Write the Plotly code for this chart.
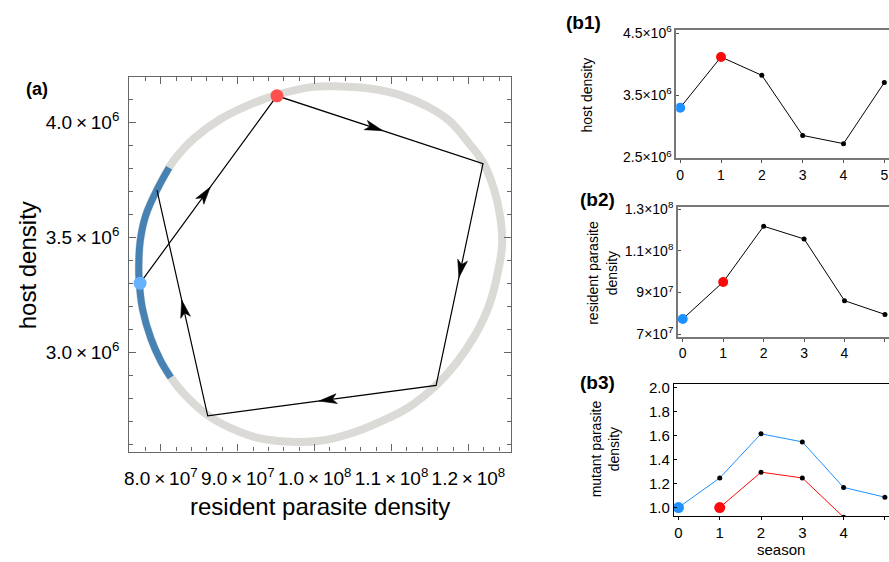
import math
import plotly.graph_objects as go

# ---------------- data ----------------
seasons = [0, 1, 2, 3, 4, 5]
host = [3.30e6, 4.115e6, 3.82e6, 2.855e6, 2.723e6, 3.705e6]
resident = [7.73e7, 9.51e7, 12.19e7, 11.58e7, 8.61e7, 7.95e7]
mutant_from0 = [1.0, 1.246, 1.613, 1.546, 1.167, 1.086]
mutant_from1_seasons = [1, 2, 3, 4]
mutant_from1 = [1.0, 1.294, 1.246, 0.92]

# invariant curve, resident (x) and host (y)
ring_x = [9.982e7, 9.517e7, 9.164e7, 8.776e7, 8.431e7, 8.172e7, 7.956e7, 7.806e7, 7.732e7, 7.713e7,
          7.719e7, 7.762e7, 7.871e7, 8.000e7, 8.129e7, 8.301e7, 8.603e7, 8.905e7, 9.249e7, 9.681e7,
          10.069e7, 10.457e7, 10.866e7, 11.233e7, 11.577e7, 11.836e7, 12.086e7, 12.267e7, 12.397e7, 12.439e7,
          12.417e7, 12.332e7, 12.190e7, 12.009e7, 11.750e7, 11.470e7, 11.124e7, 10.736e7, 10.370e7, 9.982e7]
ring_y = [4.154e6, 4.120e6, 4.078e6, 4.014e6, 3.929e6, 3.835e6, 3.710e6, 3.597e6, 3.484e6, 3.370e6,
          3.307e6, 3.187e6, 3.059e6, 2.961e6, 2.890e6, 2.819e6, 2.727e6, 2.670e6, 2.628e6, 2.610e6,
          2.614e6, 2.645e6, 2.699e6, 2.762e6, 2.854e6, 2.949e6, 3.073e6, 3.201e6, 3.370e6, 3.471e6,
          3.583e6, 3.710e6, 3.826e6, 3.908e6, 4.007e6, 4.068e6, 4.117e6, 4.146e6, 4.155e6, 4.154e6]
arc_x = [8.107e7, 7.956e7, 7.806e7, 7.732e7, 7.713e7, 7.719e7, 7.762e7, 7.871e7, 8.000e7, 8.129e7]
arc_y = [3.802e6, 3.710e6, 3.597e6, 3.484e6, 3.370e6, 3.307e6, 3.187e6, 3.059e6, 2.961e6, 2.890e6]

# tick labels
TS = "\u2009"
a_xtickvals = [8e7, 9e7, 1e8, 1.1e8, 1.2e8]
a_xticktext = [f"8.0{TS}×{TS}10<sup>7</sup>", f"9.0{TS}×{TS}10<sup>7</sup>", f"1.0{TS}×{TS}10<sup>8</sup>",
               f"1.1{TS}×{TS}10<sup>8</sup>", f"1.2{TS}×{TS}10<sup>8</sup>"]
a_ytickvals = [3.0e6, 3.5e6, 4.0e6]
a_yticktext = [f"3.0{TS}×{TS}10<sup>6</sup>", f"3.5{TS}×{TS}10<sup>6</sup>", f"4.0{TS}×{TS}10<sup>6</sup>"]
b1_ytickvals = [2.5e6, 3.5e6, 4.5e6]
b1_yticktext = ["2.5×10<sup>6</sup>", "3.5×10<sup>6</sup>", "4.5×10<sup>6</sup>"]
b2_ytickvals = [7e7, 9e7, 1.1e8, 1.3e8]
b2_yticktext = ["7×10<sup>7</sup>", "9×10<sup>7</sup>", "1.1×10<sup>8</sup>", "1.3×10<sup>8</sup>"]
b3_ytickvals = [1.0, 1.2, 1.4, 1.6, 1.8, 2.0]
b3_yticktext = ["1.0", "1.2", "1.4", "1.6", "1.8", "2.0"]

# ---------------- styles / layout geometry ----------------
FONT = "Liberation Sans, Arial, sans-serif"
W, H = 889, 562
RED_A, BLUE_A = "rgb(255,80,80)", "rgb(102,178,255)"
RED_B, BLUE_B = "rgb(250,10,10)", "rgb(30,144,255)"
ARC = "rgb(70,130,180)"
A_LEFT, A_RIGHT, A_TOP, A_BOTTOM = 125, 509, 72, 456
A_XRANGE = [7.59e7, 12.556e7]
A_YRANGE = [2.567e6, 4.196e6]

fig = go.Figure()

# ----- panel (a) -----
fig.add_trace(go.Scatter(x=ring_x, y=ring_y, mode="lines",
                         line=dict(color="rgb(220,218,215)", width=8, shape="spline", smoothing=1.2),
                         xaxis="x", yaxis="y", hoverinfo="skip"))
fig.add_trace(go.Scatter(x=arc_x, y=arc_y, mode="lines", line=dict(color=ARC, width=7, shape="spline"),
                         xaxis="x", yaxis="y", hoverinfo="skip"))
fig.add_trace(go.Scatter(x=resident, y=host, mode="lines", line=dict(color="black", width=1.2),
                         xaxis="x", yaxis="y"))

# notched arrowheads at the middle of each step (shape defined in screen pixels)
sx = (A_RIGHT - A_LEFT) / (A_XRANGE[1] - A_XRANGE[0])
sy = (A_BOTTOM - A_TOP) / (A_YRANGE[1] - A_YRANGE[0])
HEAD_LEN, HEAD_HALF, NOTCH, SHIFT = 18, 5, 13.5, 3
head_x, head_y = [], []
for i in range(len(seasons) - 1):
    X0, Y0 = resident[i] * sx, host[i] * sy
    X1, Y1 = resident[i + 1] * sx, host[i + 1] * sy
    dx, dy = X1 - X0, Y1 - Y0
    L = math.hypot(dx, dy)
    ux, uy = dx / L, dy / L
    nx, ny = -uy, ux
    tx, ty = X0 + 0.5 * dx + SHIFT * ux, Y0 + 0.5 * dy + SHIFT * uy
    pts = [(tx, ty),
           (tx - HEAD_LEN * ux + HEAD_HALF * nx, ty - HEAD_LEN * uy + HEAD_HALF * ny),
           (tx - NOTCH * ux, ty - NOTCH * uy),
           (tx - HEAD_LEN * ux - HEAD_HALF * nx, ty - HEAD_LEN * uy - HEAD_HALF * ny),
           (tx, ty)]
    for a, b in pts:
        head_x.append(a / sx)
        head_y.append(b / sy)
    head_x.append(None)
    head_y.append(None)
fig.add_trace(go.Scatter(x=head_x, y=head_y, mode="lines", fill="toself", fillcolor="black",
                         line=dict(color="black", width=0.6), xaxis="x", yaxis="y", hoverinfo="skip"))

fig.add_trace(go.Scatter(x=[resident[0]], y=[host[0]], mode="markers", marker=dict(size=13, color=BLUE_A),
                         xaxis="x", yaxis="y"))
fig.add_trace(go.Scatter(x=[resident[1]], y=[host[1]], mode="markers", marker=dict(size=13, color=RED_A),
                         xaxis="x", yaxis="y"))

# ----- panel (b1) -----
fig.add_trace(go.Scatter(x=seasons, y=host, mode="lines+markers", line=dict(color="black", width=1),
                         marker=dict(size=5, color="black"), xaxis="x2", yaxis="y2"))
fig.add_trace(go.Scatter(x=[seasons[0]], y=[host[0]], mode="markers", marker=dict(size=10, color=BLUE_B), xaxis="x2", yaxis="y2"))
fig.add_trace(go.Scatter(x=[seasons[1]], y=[host[1]], mode="markers", marker=dict(size=10, color=RED_B), xaxis="x2", yaxis="y2"))

# ----- panel (b2) -----
fig.add_trace(go.Scatter(x=seasons, y=resident, mode="lines+markers", line=dict(color="black", width=1),
                         marker=dict(size=5, color="black"), xaxis="x3", yaxis="y3"))
fig.add_trace(go.Scatter(x=[seasons[0]], y=[resident[0]], mode="markers", marker=dict(size=10, color=BLUE_B), xaxis="x3", yaxis="y3"))
fig.add_trace(go.Scatter(x=[seasons[1]], y=[resident[1]], mode="markers", marker=dict(size=10, color=RED_B), xaxis="x3", yaxis="y3"))

# ----- panel (b3) -----
fig.add_trace(go.Scatter(x=seasons, y=mutant_from0, mode="lines+markers", line=dict(color=BLUE_B, width=1),
                         marker=dict(size=5, color="black"), xaxis="x4", yaxis="y4"))
fig.add_trace(go.Scatter(x=mutant_from1_seasons, y=mutant_from1, mode="lines+markers", line=dict(color=RED_B, width=1),
                         marker=dict(size=5, color="black"), xaxis="x4", yaxis="y4"))
fig.add_trace(go.Scatter(x=[seasons[0]], y=[mutant_from0[0]], mode="markers", marker=dict(size=11, color=BLUE_B), xaxis="x4", yaxis="y4"))
fig.add_trace(go.Scatter(x=[mutant_from1_seasons[0]], y=[mutant_from1[0]], mode="markers", marker=dict(size=11, color=RED_B), xaxis="x4", yaxis="y4"))


def px(x):
    return x / W


def py(y):
    return 1 - y / H


frame_a = dict(showline=True, linecolor="#666", linewidth=1.3, mirror="allticks", ticks="inside", ticklen=7,
               tickcolor="#666", showgrid=False, zeroline=False, tickfont=dict(size=19, color="black", family=FONT))
fig.update_layout(
    width=W, height=H, margin=dict(l=0, r=0, t=0, b=0), showlegend=False,
    plot_bgcolor="white", paper_bgcolor="white", font=dict(family=FONT, color="black"),
    xaxis=dict(domain=[px(A_LEFT), px(A_RIGHT)], range=A_XRANGE, tickmode="array", tickvals=a_xtickvals,
               ticktext=a_xticktext, anchor="y", ticklabelstandoff=9,
               minor=dict(tickmode="linear", tick0=8e7, dtick=2e6, ticks="inside", ticklen=4, tickcolor="#666"),
               **frame_a),
    yaxis=dict(domain=[py(A_BOTTOM), py(A_TOP)], range=A_YRANGE, tickmode="array", tickvals=a_ytickvals,
               ticktext=a_yticktext, anchor="x", ticklabelstandoff=5,
               minor=dict(tickmode="linear", tick0=3e6, dtick=1e5, ticks="inside", ticklen=4, tickcolor="#666"),
               **frame_a),
)

bfont = dict(size=14, color="black", family=FONT)
fig.update_layout(
    xaxis2=dict(domain=[px(675), 1], range=[-0.097, 5.114], anchor="y2", tickvals=seasons, showline=True,
                linecolor="#777", linewidth=1.5, mirror=True, ticks="outside", ticklen=3, tickcolor="#555",
                showgrid=False, zeroline=False, tickfont=bfont),
    yaxis2=dict(domain=[py(155), py(24)], range=[2.49e6, 4.542e6], anchor="x2", tickmode="array",
                tickvals=b1_ytickvals, ticktext=b1_yticktext, showline=True, linecolor="#777", linewidth=1.5,
                ticks="inside", ticklen=3, tickcolor="#555", showgrid=False, zeroline=False, tickfont=bfont),
    xaxis3=dict(domain=[px(676.7), 1], range=[-0.12, 5.10], anchor="y3", tickvals=seasons, showline=True,
                linecolor="#777", linewidth=1.5, mirror=True, ticks="outside", ticklen=3, tickcolor="#555",
                showgrid=False, zeroline=False, tickfont=bfont),
    yaxis3=dict(domain=[py(338.3), py(205)], range=[6.87e7, 1.312e8], anchor="x3", tickmode="array",
                tickvals=b2_ytickvals, ticktext=b2_yticktext, showline=True, linecolor="#777", linewidth=1.5,
                ticks="inside", ticklen=3, tickcolor="#555", showgrid=False, zeroline=False, tickfont=bfont),
    xaxis4=dict(domain=[px(672.7), 1], range=[-0.11, 5.10], anchor="y4", tickvals=seasons, showline=True,
                linecolor="black", linewidth=1.2, mirror=True, ticks="outside", ticklen=3, tickcolor="black",
                showgrid=False, zeroline=False, tickfont=dict(size=15, color="black", family=FONT)),
    yaxis4=dict(domain=[py(522.3), py(386.7)], range=[0.927, 2.027], anchor="x4", tickmode="array",
                tickvals=b3_ytickvals, ticktext=b3_yticktext, showline=True, linecolor="black", linewidth=1.2,
                ticks="inside", ticklen=3, tickcolor="black", showgrid=False, zeroline=False,
                tickfont=dict(size=15, color="black", family=FONT)),
)


def label(text, x, y, size, bold=False, angle=0):
    fig.add_annotation(text=f"<b>{text}</b>" if bold else text, x=px(x), y=py(y), xref="paper", yref="paper",
                       showarrow=False, textangle=angle, xanchor="center", yanchor="middle",
                       font=dict(size=size, color="black", family=FONT))


label("(a)", 32, 84, 18, bold=True)
label("resident parasite density", 317, 512, 24)
label("host density", 23, 265, 24, angle=-90)
label("(b1)", 582, 16, 19, bold=True)
label("host density", 585, 90, 14, angle=-90)
label("(b2)", 596, 197, 19, bold=True)
label("resident parasite<br>density", 601, 273, 14, angle=-90)
label("(b3)", 596, 385, 19, bold=True)
label("mutant parasite<br>density", 603, 453, 14, angle=-90)
label("season", 780, 556, 15)

fig.write_html("out.html", config={"displayModeBar": False},
               post_script="document.body.style.margin='0px';document.body.style.padding='0px';")
